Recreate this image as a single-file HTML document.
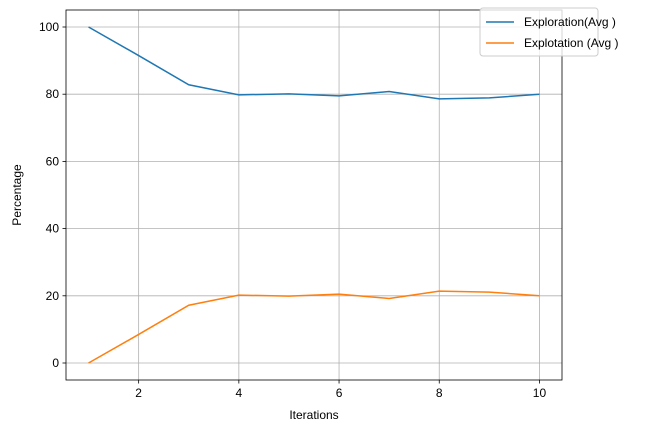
<!DOCTYPE html>
<html><head><meta charset="utf-8"><style>
body{margin:0;background:#fff;}
svg{display:block;font-family:"Liberation Sans","DejaVu Sans",sans-serif;}
</style></head><body>
<svg id="chart" width="663" height="433" viewBox="0 0 663 433" xmlns="http://www.w3.org/2000/svg"></svg>
<script>
const iterations=[1,2,3,4,5,6,7,8,9,10];
const exploration=[100,91.5,82.8,79.8,80.1,79.5,80.8,78.6,78.9,80.0];
const exploitation=[0,8.5,17.2,20.2,19.9,20.5,19.2,21.4,21.1,20.0];
const xTicks=[2,4,6,8,10];
const yTicks=[0,20,40,60,80,100];
const L=66,R=562,T=10,B=380;
const xMin=0.55,xMax=10.45,yMin=-5.06,yMax=105.06;
const sx=v=>L+(v-xMin)/(xMax-xMin)*(R-L);
const sy=v=>B-(v-yMin)/(yMax-yMin)*(B-T);
const svg=document.getElementById('chart');
const NS='http://www.w3.org/2000/svg';
function mk(tag,attrs,parent){const e=document.createElementNS(NS,tag);for(const k in attrs)e.setAttribute(k,attrs[k]);(parent||svg).appendChild(e);return e;}
const grid=mk('g',{});


xTicks.forEach(t=>{
  const x=sx(t);
  mk('line',{x1:x,x2:x,y1:T,y2:B,stroke:'#b0b0b0','stroke-width':0.8},grid);
  mk('line',{x1:x,x2:x,y1:B,y2:B+3.5,stroke:'#000','stroke-width':0.8},grid);
  const tx=mk('text',{x:x,y:B+17,'text-anchor':'middle','font-size':12,fill:'#000'});
  
  
  tx.textContent=t;
});
yTicks.forEach(t=>{
  const y=sy(t);
  mk('line',{x1:L,x2:R,y1:y,y2:y,stroke:'#b0b0b0','stroke-width':0.8},grid);
  mk('line',{x1:L-3.5,x2:L,y1:y,y2:y,stroke:'#000','stroke-width':0.8},grid);
  const tx=mk('text',{x:L-7,y:y+4,'text-anchor':'end','font-size':12,fill:'#000'});
  
  
  tx.textContent=t;
});
function series(vals,color,name){
  const p=mk('polyline',{points:iterations.map((v,i)=>sx(v)+','+sy(vals[i])).join(' '),fill:'none',stroke:color,'stroke-width':1.5});
  
  
}
series(exploration,'#1f77b4','exploration-line');
series(exploitation,'#ff7f0e','exploitation-line');
const frame=mk('rect',{x:L,y:T,width:R-L,height:B-T,fill:'none',stroke:'#000','stroke-width':0.8});


const xt=mk('text',{x:(L+R)/2,y:419,'text-anchor':'middle','font-size':12});


xt.textContent='Iterations';
const yt=mk('text',{x:21,y:(T+B)/2,'text-anchor':'middle','font-size':12,transform:'rotate(-90 21 '+((T+B)/2)+')'});


yt.textContent='Percentage';
const lg=mk('g',{});


mk('rect',{x:480,y:8,width:118,height:48,rx:3,fill:'#fff','fill-opacity':0.8,stroke:'#ccc','stroke-width':1},lg);
[['Exploration(Avg )','#1f77b4',22],['Explotation (Avg )','#ff7f0e',43]].forEach(([t,c,y])=>{
  const e=mk('g',{},lg);
  
  
  mk('line',{x1:486,x2:514,y1:y,y2:y,stroke:c,'stroke-width':1.5},e);
  const tx=mk('text',{x:524,y:y+4,'font-size':12},e);
  tx.textContent=t;
});
</script>
</body></html>
